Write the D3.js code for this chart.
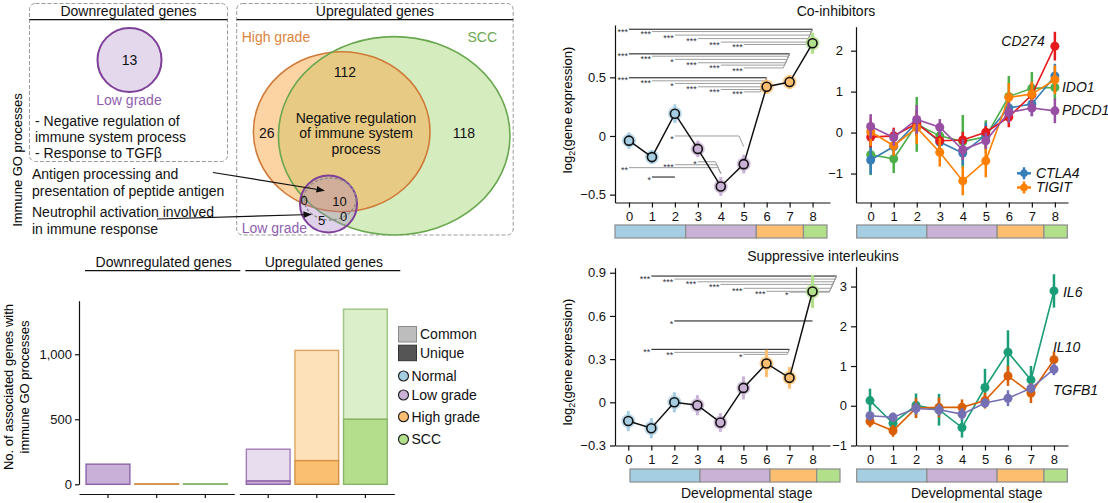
<!DOCTYPE html>
<html>
<head>
<meta charset="utf-8">
<script src="https://cdn.jsdelivr.net/npm/d3@7"></script>
<style>
  body { margin: 0; background: #fff; }
  svg { font-family: "Liberation Sans", Arial, Helvetica, sans-serif; display: block; }
</style>
</head>
<body>
<svg id="fig" width="1108" height="503"></svg>
<script>
// ---- values ----
var downCount = 13;
var downTerms = ["- Negative regulation of", "immune system process", "- Response to TGF\u03b2"];
var upRegions = ["High grade only", "High grade + SCC", "SCC only", "All three", "Low + high grade", "Low grade + SCC", "Low grade only"];
var upCounts = [26, 112, 118, 10, 0, 0, 5];
var upSharedTerm = ["Negative regulation", "of immune system", "process"];
var lowGradeTerms = [["Antigen processing and", "presentation of peptide antigen"],
                     ["Neutrophil activation involved", "in immune response"]];

var barGroups = ["Downregulated genes", "Upregulated genes"];
var barStages = ["Low grade", "High grade", "SCC"];
var barUnique = [[155, 0, 0], [25, 182, 500]];
var barCommon = [[0, 0, 0], [245, 848, 847]];

var stages = [0, 1, 2, 3, 4, 5, 6, 7, 8];
var stageGroups = ["Normal", "Low grade", "High grade", "SCC"];
var stageGroupOf = [0, 0, 0, 1, 1, 1, 2, 2, 3];

var coinhMean = [-0.04, -0.18, 0.19, -0.11, -0.43, -0.24, 0.42, 0.46, 0.79];
var coinhErr  = [0.07, 0.06, 0.08, 0.07, 0.08, 0.08, 0.06, 0.06, 0.09];
// a = from stage, b = to stage, y = bracket level, e = level where it ends at b, p = stars
var coinhSig = [
  {a: 0, b: 8, y: 0.91, e: 0.91, p: "***"}, {a: 1, b: 8, y: 0.89, e: 0.91, p: "***"},
  {a: 2, b: 8, y: 0.86, e: 0.91, p: "***"}, {a: 3, b: 8, y: 0.83, e: 0.91, p: "***"},
  {a: 4, b: 8, y: 0.80, e: 0.91, p: "***"}, {a: 5, b: 8, y: 0.78, e: 0.91, p: "***"},
  {a: 0, b: 7, y: 0.70, e: 0.70, p: "***"}, {a: 1, b: 7, y: 0.68, e: 0.70, p: "***"},
  {a: 2, b: 7, y: 0.653, e: 0.70, p: "*"}, {a: 3, b: 7, y: 0.624, e: 0.70, p: "***"},
  {a: 4, b: 7, y: 0.604, e: 0.70, p: "***"}, {a: 5, b: 7, y: 0.58, e: 0.70, p: "***"},
  {a: 0, b: 6, y: 0.496, e: 0.496, p: "***"}, {a: 1, b: 6, y: 0.47, e: 0.496, p: "***"},
  {a: 2, b: 6, y: 0.448, e: 0.496, p: "*"}, {a: 3, b: 6, y: 0.419, e: 0.496, p: "***"},
  {a: 4, b: 6, y: 0.396, e: 0.496, p: "***"}, {a: 5, b: 6, y: 0.376, e: 0.496, p: "***"},
  {a: 2, b: 5, y: 0.0, e: -0.09, p: "*"},
  {a: 3, b: 4, y: -0.22, e: -0.32, p: "*"}, {a: 2, b: 4, y: -0.245, e: -0.32, p: "***"},
  {a: 0, b: 4, y: -0.27, e: -0.32, p: "**"},
  {a: 1, b: 2, y: -0.35, e: -0.35, p: "*"}
];

var ilMean = [-0.13, -0.18, 0.0, -0.02, -0.14, 0.10, 0.27, 0.17, 0.77];
var ilErr  = [0.07, 0.07, 0.07, 0.07, 0.065, 0.08, 0.095, 0.075, 0.115];
var ilSig = [
  {a: 1, b: 8, y: 0.877, e: 0.877, p: "***"}, {a: 2, b: 8, y: 0.856, e: 0.877, p: "***"},
  {a: 3, b: 8, y: 0.837, e: 0.877, p: "***"}, {a: 4, b: 8, y: 0.819, e: 0.877, p: "***"},
  {a: 5, b: 8, y: 0.792, e: 0.877, p: "***"}, {a: 6, b: 8, y: 0.771, e: 0.877, p: "***"},
  {a: 7, b: 8, y: 0.765, e: 0.877, p: "*"},
  {a: 2, b: 8, y: 0.565, e: 0.565, p: "*"},
  {a: 1, b: 7, y: 0.368, e: 0.368, p: "**"}, {a: 2, b: 7, y: 0.347, e: 0.368, p: "**"},
  {a: 5, b: 7, y: 0.333, e: 0.368, p: "*"}
];

var coinhGenes = ["IDO1", "CTLA4", "CD274", "TIGIT", "PDCD1"];
var coinhValues = [
  [-0.54, -0.64, 0.20, -0.08, -0.22, -0.10, 0.88, 1.08, 1.10],
  [-0.67, -0.34, 0.25, -0.23, -0.50, -0.06, 0.60, 0.70, 1.38],
  [-0.11, -0.08, 0.22, -0.20, -0.18, 0.01, 0.38, 0.92, 2.11],
  [0.02, -0.32, 0.12, -0.48, -1.18, -0.69, 0.86, 0.94, 1.29],
  [0.15, -0.12, 0.32, 0.13, -0.42, -0.20, 0.49, 0.60, 0.53]
];
var coinhErrs = [
  [0.50, 0.35, 0.67, 0.30, 0.65, 0.40, 0.50, 0.40, 0.30],
  [0.35, 0.20, 0.30, 0.25, 0.30, 0.30, 0.35, 0.30, 0.30],
  [0.25, 0.20, 0.30, 0.20, 0.20, 0.15, 0.25, 0.30, 0.35],
  [0.35, 0.25, 0.40, 0.35, 0.35, 0.40, 0.35, 0.30, 0.35],
  [0.30, 0.20, 0.35, 0.20, 0.25, 0.20, 0.25, 0.20, 0.30]
];

var ilGenes = ["IL6", "IL10", "TGFB1"];
var ilValues = [
  [0.13, -0.44, 0.01, -0.10, -0.55, 0.46, 1.35, 0.65, 2.89],
  [-0.39, -0.63, -0.06, -0.04, -0.04, 0.13, 0.75, 0.32, 1.16],
  [-0.25, -0.29, -0.07, -0.10, -0.21, 0.07, 0.19, 0.44, 0.92]
];
var ilErrs = [
  [0.30, 0.25, 0.30, 0.40, 0.25, 0.47, 0.55, 0.35, 0.42],
  [0.15, 0.15, 0.25, 0.25, 0.20, 0.20, 0.25, 0.25, 0.20],
  [0.12, 0.12, 0.15, 0.15, 0.15, 0.12, 0.20, 0.12, 0.15]
];

// ---- styling ----
var groupColors = ["#a6cee3", "#cab2d6", "#fdbf6f", "#b2df8a"];
var geneColors = {CD274: "#e41a1c", IDO1: "#4daf4a", PDCD1: "#984ea3", CTLA4: "#377eb8", TIGIT: "#ff7f00",
                  IL6: "#1b9e77", IL10: "#d95f02", TGFB1: "#7570b3"};
var purple = "#7d3f98", orange = "#d9843a", green = "#6aa84f";

var svg = d3.select("#fig");

svg.append("defs").append("marker")
    .attr("id", "arrow").attr("viewBox", "0 0 10 10").attr("refX", 9).attr("refY", 5)
    .attr("markerWidth", 7).attr("markerHeight", 7).attr("orient", "auto")
  .append("path").attr("d", "M0,1L10,5L0,9z").attr("fill", "#111");

function label(x, y, txt, opt) {
  opt = opt || {};
  return svg.append("text").attr("x", x).attr("y", y).attr("dy", "0.35em")
    .attr("text-anchor", opt.anchor || "start")
    .attr("font-size", opt.size || 14)
    .attr("fill", opt.fill || "#111")
    .attr("font-style", opt.italic ? "italic" : null)
    .text(txt);
}

function dashedBox(x, y, w, h, title) {
  svg.append("rect").attr("x", x).attr("y", y).attr("width", w).attr("height", h).attr("rx", 6)
    .attr("fill", "none").attr("stroke", "#9a9a9a").attr("stroke-dasharray", "4,2");
  svg.append("line").attr("x1", x).attr("x2", x + w).attr("y1", y + 16.2).attr("y2", y + 16.2)
    .attr("stroke", "#111").attr("stroke-width", 1.2);
  label(x + w / 2, y + 8, title, {anchor: "middle"});
}

// ---- Venn: downregulated ----
dashedBox(29.5, 3.5, 198, 158, barGroups[0]);
svg.append("circle").attr("cx", 129.5).attr("cy", 60).attr("r", 32)
  .attr("fill", "#e4d8ed").attr("stroke", purple).attr("stroke-width", 2);
label(129.5, 60, downCount, {anchor: "middle"});
label(129, 100, "Low grade", {anchor: "middle", fill: "#9060ae"});
downTerms.forEach(function(t, i) { label(35, 121.5 + i * 16, t); });

// ---- Venn: upregulated ----
dashedBox(236.7, 3.5, 276.5, 231.5, barGroups[1]);
svg.append("ellipse").attr("cx", 394.2).attr("cy", 135.8).attr("rx", 115.8).attr("ry", 99.2).attr("fill", "#d5ecbf");
svg.append("ellipse").attr("cx", 341.7).attr("cy", 131.7).attr("rx", 88.3).attr("ry", 80)
  .attr("fill", "#f9a747").attr("fill-opacity", 0.5);
svg.append("ellipse").attr("cx", 341.7).attr("cy", 131.7).attr("rx", 88.3).attr("ry", 80)
  .attr("fill", "none").attr("stroke", "#cf7a38").attr("stroke-width", 1.6);
svg.append("ellipse").attr("cx", 394.2).attr("cy", 135.8).attr("rx", 115.8).attr("ry", 99.2)
  .attr("fill", "none").attr("stroke", green).attr("stroke-width", 1.6);
svg.append("circle").attr("cx", 328.5).attr("cy", 204).attr("r", 28.5)
  .attr("fill", "#a57cc4").attr("fill-opacity", 0.35).attr("stroke", purple).attr("stroke-width", 2);
svg.append("ellipse").attr("cx", 330).attr("cy", 199).attr("rx", 26).attr("ry", 21)
  .attr("fill", "none").attr("stroke", "#8a8a8a").attr("stroke-dasharray", "3,2").attr("stroke-width", 1.3);

label(241.7, 37.5, "High grade", {fill: orange});
label(497, 37.5, "SCC", {anchor: "end", fill: green});
label(241.7, 227.7, "Low grade", {fill: "#9060ae"});
var regionPos = [[266.7, 132.7], [345, 71.7], [464, 132.7], [339.5, 201.7], [304, 200], [343.5, 216.7], [321.7, 220]];
upCounts.forEach(function(c, i) {
  label(regionPos[i][0], regionPos[i][1], c, {anchor: "middle", size: i > 2 ? 13 : 14});
});
upSharedTerm.forEach(function(t, i) { label(356, 117.7 + i * 15.5, t, {anchor: "middle"}); });

lowGradeTerms[0].forEach(function(t, i) { label(32, 174 + i * 16.7, t); });
lowGradeTerms[1].forEach(function(t, i) { label(32, 212.3 + i * 17, t); });
svg.append("line").attr("x1", 213).attr("y1", 172.5).attr("x2", 324).attr("y2", 190.5)
  .attr("stroke", "#111").attr("stroke-width", 1.2).attr("marker-end", "url(#arrow)");
svg.append("line").attr("x1", 157).attr("y1", 219).attr("x2", 311).attr("y2", 214.5)
  .attr("stroke", "#111").attr("stroke-width", 1.2).attr("marker-end", "url(#arrow)");
svg.append("text").attr("transform", "translate(17,160) rotate(-90)").attr("dy", "0.35em")
  .attr("text-anchor", "middle").attr("font-size", 13).text("Immune GO processes");

// ---- bar chart ----
var barY = d3.scaleLinear().domain([0, 1412]).range([484.3, 300.7]);
var barFill = {
  unique: ["#c8b0d9", "#fbbf72", "#b4dd8c"],
  common: ["#e7ddef", "#fde1b8", "#dcefcb"],
  stroke: ["#8e62a8", "#d59246", "#89b56a"]
};
var groupRanges = [[79, 234.3], [239.3, 394.3]];
barGroups.forEach(function(grp, gi) {
  var bx = d3.scaleBand().domain(barStages).range(groupRanges[gi]).paddingInner(0.1).paddingOuter(0.145);
  var r = groupRanges[gi];
  svg.append("line").attr("x1", r[0] + 6).attr("x2", r[1] + 6).attr("y1", 270.7).attr("y2", 270.7)
    .attr("stroke", "#111").attr("stroke-width", 1.2);
  label((r[0] + r[1]) / 2 + 7, 262, grp, {anchor: "middle"});

  var ax = svg.append("g").attr("transform", "translate(0,494)")
    .call(d3.axisBottom(bx).tickSize(4).tickSizeOuter(0).tickFormat(""));
  ax.select(".domain").attr("stroke", "#111").attr("stroke-width", 1.2);
  ax.selectAll(".tick line").attr("stroke", "#111").attr("stroke-width", 1.2);

  barStages.forEach(function(st, si) {
    var u = barUnique[gi][si], c = barCommon[gi][si];
    var x0 = bx(st), w = bx.bandwidth();
    if (c > 0) {
      svg.append("rect").attr("x", x0).attr("width", w)
        .attr("y", barY(u + c)).attr("height", barY(u) - barY(u + c))
        .attr("fill", barFill.common[si]).attr("stroke", barFill.stroke[si]).attr("stroke-width", 1.4).attr("stroke-opacity", 0.8);
    }
    svg.append("rect").attr("x", x0).attr("width", w)
      .attr("y", barY(u) - (u > 0 ? 0 : 0.5)).attr("height", Math.max(barY(0) - barY(u), 0.5))
      .attr("fill", barFill.unique[si]).attr("stroke", barFill.stroke[si]).attr("stroke-width", 1.4);
  });
});
var yax = svg.append("g").attr("transform", "translate(79,0)")
  .call(d3.axisLeft(barY).tickValues([0, 500, 1000]).tickFormat(d3.format(",")).tickSize(4).tickSizeOuter(0).tickPadding(3));
yax.attr("font-family", null).attr("font-size", 13);
yax.select(".domain").attr("stroke", "#111").attr("stroke-width", 1.2);
yax.selectAll(".tick line").attr("stroke", "#111").attr("stroke-width", 1.2);
yax.selectAll(".tick text").attr("fill", "#111");
var yl = svg.append("text").attr("transform", "translate(17,387) rotate(-90)").attr("text-anchor", "middle").attr("font-size", 13);
yl.append("tspan").attr("x", 0).attr("y", -4).text("No. of associated genes with");
yl.append("tspan").attr("x", 0).attr("y", 12).text("immune GO processes");

// legend
[["Common", "#bdbdbd", "#8a8a8a"], ["Unique", "#555555", "#333"]].forEach(function(d, i) {
  svg.append("rect").attr("x", 398.5).attr("y", 326.5 + i * 18.7).attr("width", 18).attr("height", 15.5)
    .attr("fill", d[1]).attr("stroke", d[2]);
  label(420, 334.5 + i * 18.5, d[0]);
});
var legendY = [376, 395, 416.7, 439.3];
stageGroups.forEach(function(g, i) {
  svg.append("circle").attr("cx", 403.5).attr("cy", legendY[i]).attr("r", 5)
    .attr("fill", groupColors[i]).attr("stroke", "#222").attr("stroke-width", 1.2);
  label(411.5, legendY[i], g);
});

// ---- developmental stage panels ----
var panels = {
  coinhMean: {xDomain: [-0.61, 8.76], xRange: [615, 830], yDomain: [-0.567, 0.946], yRange: [202.5, 25],
              yTicks: [-0.5, 0, 0.5], yPad: 4, barRange: [615, 827], barY: 225},
  coinhGenes: {xDomain: [-0.638, 8.57], xRange: [856, 1068], yDomain: [-1.707, 2.585], yRange: [202.5, 26.7],
               yTicks: [-1, 0, 1, 2], yPad: 8, barRange: [856.7, 1067.3], barY: 225},
  ilMean: {xDomain: [-0.577, 8.76], xRange: [615, 830], yDomain: [-0.3, 0.935], yRange: [445.5, 267.7],
           yTicks: [-0.3, 0, 0.3, 0.6, 0.9], yPad: 4, barRange: [630, 840], barY: 469,
           fanShift: 24, fanAbove: 0.7},
  ilGenes: {xDomain: [-0.609, 8.61], xRange: [856, 1068], yDomain: [-1, 3.5], yRange: [445.5, 266.7],
            yTicks: [-1, 0, 1, 2, 3], yPad: 4, barRange: [856.7, 1067.3], barY: 469}
};

function stageFrame(p) {
  var x = d3.scaleLinear().domain(p.xDomain).range(p.xRange);
  var y = d3.scaleLinear().domain(p.yDomain).range(p.yRange);
  var g = svg.append("g");
  var ya = g.append("g").attr("transform", "translate(" + p.xRange[0] + ",0)")
    .call(d3.axisLeft(y).tickValues(p.yTicks).tickFormat(d3.format("")).tickSize(5).tickSizeOuter(0).tickPadding(p.yPad));
  var xa = g.append("g").attr("transform", "translate(0," + p.yRange[0] + ")")
    .call(d3.axisBottom(x).tickValues(stages).tickFormat(d3.format("d")).tickSize(5).tickSizeOuter(0).tickPadding(4));
  [ya, xa].forEach(function(a) {
    a.attr("font-family", null).attr("font-size", 13);
    a.select(".domain").attr("stroke", "#111").attr("stroke-width", 1.2);
    a.selectAll(".tick line").attr("stroke", "#111").attr("stroke-width", 1.2);
    a.selectAll(".tick text").attr("fill", "#111");
  });
  var band = d3.scaleBand().domain(stages).range(p.barRange);
  stageGroups.forEach(function(name, k) {
    var members = stages.filter(function(s) { return stageGroupOf[s] === k; });
    var x0 = band(members[0]), x1 = band(members[members.length - 1]) + band.bandwidth();
    g.append("rect").attr("x", x0).attr("y", p.barY).attr("width", x1 - x0).attr("height", 13)
      .attr("fill", groupColors[k]).attr("stroke", "#8c8c8c").attr("stroke-width", 1.2);
  });
  return {x: x, y: y, g: g};
}

function meanPanel(p, mean, err, sig) {
  var f = stageFrame(p), x = f.x, y = f.y, g = f.g;
  sig.forEach(function(s) {
    var shift = (p.fanShift && s.b === 8 && s.e > p.fanAbove) ? p.fanShift : 0;
    var xa = x(s.a), xb = x(s.b) + shift;
    var ya = y(s.y), ye = y(s.e);
    var bend = Math.abs(ye - ya) * 0.45;
    g.append("path").attr("d", "M" + xa + "," + ya + "H" + (xb - bend) + "L" + xb + "," + ye)
      .attr("fill", "none").attr("stroke", s.y === s.e ? "#111" : "#9d9d9d").attr("stroke-width", 1);
    g.append("text").attr("x", xa - 1).attr("y", ya).attr("dy", "0.62em").attr("text-anchor", "end")
      .attr("font-size", 9).attr("fill", "#334").text(s.p);
  });
  g.selectAll(".eb").data(stages).enter().append("line")
    .attr("x1", function(d) { return x(d); }).attr("x2", function(d) { return x(d); })
    .attr("y1", function(d) { return y(mean[d] - err[d]); }).attr("y2", function(d) { return y(mean[d] + err[d]); })
    .attr("stroke", function(d) { return groupColors[stageGroupOf[d]]; }).attr("stroke-width", 3);
  g.selectAll(".halo").data(stages).enter().append("circle")
    .attr("cx", function(d) { return x(d); }).attr("cy", function(d) { return y(mean[d]); }).attr("r", 7)
    .attr("fill", function(d) { return groupColors[stageGroupOf[d]]; }).attr("fill-opacity", 0.75);
  g.append("path").datum(stages)
    .attr("d", d3.line().x(function(d) { return x(d); }).y(function(d) { return y(mean[d]); }))
    .attr("fill", "none").attr("stroke", "#111").attr("stroke-width", 1.5);
  g.selectAll(".pt").data(stages).enter().append("circle")
    .attr("cx", function(d) { return x(d); }).attr("cy", function(d) { return y(mean[d]); }).attr("r", 4.5)
    .attr("fill", function(d) { return groupColors[stageGroupOf[d]]; }).attr("stroke", "#111").attr("stroke-width", 1.6);
}

function genePanel(p, genes, values, errs, labelPos) {
  var f = stageFrame(p), x = f.x, y = f.y, g = f.g;
  genes.forEach(function(gene, gi) {
    var col = geneColors[gene], v = values[gi], e = errs[gi];
    var gg = g.append("g");
    gg.selectAll("line").data(stages).enter().append("line")
      .attr("x1", function(d) { return x(d); }).attr("x2", function(d) { return x(d); })
      .attr("y1", function(d) { return y(v[d] - e[d]); }).attr("y2", function(d) { return y(v[d] + e[d]); })
      .attr("stroke", col).attr("stroke-width", 2.5);
    gg.append("path").datum(stages)
      .attr("d", d3.line().x(function(d) { return x(d); }).y(function(d) { return y(v[d]); }))
      .attr("fill", "none").attr("stroke", col).attr("stroke-width", 1.6);
    gg.selectAll("circle").data(stages).enter().append("circle")
      .attr("cx", function(d) { return x(d); }).attr("cy", function(d) { return y(v[d]); }).attr("r", 4.5)
      .attr("fill", col);
    var lp = labelPos[gene];
    if (lp.legendY) {
      var lx = 1024, ly = lp.legendY;
      g.append("line").attr("x1", lx - 7).attr("x2", lx + 7).attr("y1", ly).attr("y2", ly).attr("stroke", col).attr("stroke-width", 2.5);
      g.append("line").attr("x1", lx).attr("x2", lx).attr("y1", ly - 6).attr("y2", ly + 6).attr("stroke", col).attr("stroke-width", 2.5);
      g.append("circle").attr("cx", lx).attr("cy", ly).attr("r", 3.8).attr("fill", col);
      label(lx + 12, ly, gene, {italic: true});
    } else {
      label(x(8) + lp.dx, y(v[8]) + lp.dy, gene, {italic: true, anchor: lp.anchor});
    }
  });
}

meanPanel(panels.coinhMean, coinhMean, coinhErr, coinhSig);
genePanel(panels.coinhGenes, coinhGenes, coinhValues, coinhErrs, {
  CD274: {dx: -10, dy: -5, anchor: "end"}, IDO1: {dx: 7, dy: 0}, PDCD1: {dx: 7, dy: -1},
  CTLA4: {legendY: 173.3}, TIGIT: {legendY: 187.5}
});
meanPanel(panels.ilMean, ilMean, ilErr, ilSig);
genePanel(panels.ilGenes, ilGenes, ilValues, ilErrs, {
  IL6: {dx: 9, dy: 1.5}, IL10: {dx: -1, dy: -13}, TGFB1: {dx: -1, dy: 21}
});

label(836, 11, "Co-inhibitors", {anchor: "middle"});
label(823, 256, "Suppressive interleukins", {anchor: "middle"});
label(746.7, 493, "Developmental stage", {anchor: "middle"});
label(976.7, 493, "Developmental stage", {anchor: "middle"});

[[567.5, 110], [567.5, 362]].forEach(function(c) {
  var t = svg.append("text").attr("transform", "translate(" + c[0] + "," + c[1] + ") rotate(-90)")
    .attr("dy", "0.35em").attr("text-anchor", "middle").attr("font-size", 13);
  t.append("tspan").text("log");
  t.append("tspan").attr("font-size", 9).attr("dy", 3).text("2");
  t.append("tspan").attr("dy", -3).text("(gene expression)");
});
</script>
</body>
</html>
